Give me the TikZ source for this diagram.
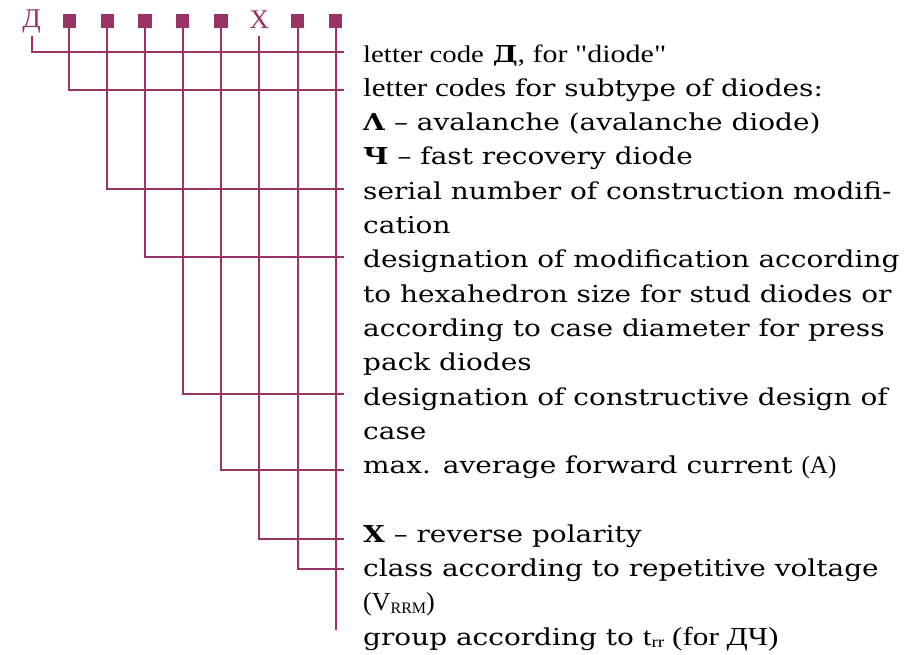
\documentclass[tikz,border=0pt]{standalone}
\usepackage{fontspec}
\setmainfont{DejaVu Serif}[FakeStretch=1.2, Ligatures=TeXOff]
\newfontfamily\tms{Liberation Serif}[Ligatures=TeXOff]
\definecolor{plum}{RGB}{153,51,102}
\newcommand\subsz{\fontsize{16}{16}\selectfont}
\newcommand\tmsat[1]{\tms\fontsize{#1}{#1}\selectfont}
\newcommand\wide[1]{\scalebox{1.2}[1]{#1}}
\tikzset{
  lead/.style={draw=plum, line width=2pt},
  cell/.style={fill=plum, minimum size=13.5pt, inner sep=0pt},
  codeletter/.style={text=plum, font=\tmsat{27}, inner sep=0pt, anchor=base},
  entry/.style={anchor=base west, inner sep=0pt, font=\fontsize{23.3}{28}\selectfont},
}
\begin{document}
\begin{tikzpicture}[x=1pt,y=-1pt]
\useasboundingbox (0,0) rectangle (919,654);

% designation symbols
\node[codeletter] (s0) at (31.7,27) {Д};
\node[cell] (s1) at (69.3,21) {};
\node[cell] (s2) at (107.3,21) {};
\node[cell] (s3) at (145,21) {};
\node[cell] (s4) at (182.7,21) {};
\node[cell] (s5) at (221,21) {};
\node[codeletter] (s6) at (259.3,28) {Х};
\node[cell] (s7) at (297.7,21) {};
\node[cell] (s8) at (335.7,21) {};

% ends of the leader lines
\coordinate (e0) at (344,52);
\coordinate (e1) at (344,90);
\coordinate (e2) at (344,189);
\coordinate (e3) at (344,257);
\coordinate (e4) at (344,394);
\coordinate (e5) at (344,470);
\coordinate (e6) at (344,539);
\coordinate (e7) at (344,569);
\coordinate (e8) at (335.7,630);

% leader lines
\draw[lead, shorten <=9pt] (s0.base) |- (e0);
\draw[lead] (s1.south) |- (e1);
\draw[lead] (s2.south) |- (e2);
\draw[lead] (s3.south) |- (e3);
\draw[lead] (s4.south) |- (e4);
\draw[lead] (s5.south) |- (e5);
\draw[lead, shorten <=8pt] (s6.base) |- (e6);
\draw[lead] (s7.south) |- (e7);
\draw[lead] (s8.south) -- (e8);

% explanations
\node[entry] (t1)  at (363,62)    {\wide{\tmsat{24}letter code} \textbf{Д}\wide{\tmsat{25}, for "diode"}};
\node[entry] (t2)  at (363,96.3)  {\wide{\tmsat{26}letter codes} for subtype of diodes:};
\node[entry] (t3)  at (363,130.6) {\textbf{Λ} – avalanche (avalanche diode)};
\node[entry] (t4)  at (363,164.9) {\textbf{Ч} – fast recovery diode};
\node[entry] (t5)  at (363,199.2) {serial number of construction modifi-};
\node[entry] (t6)  at (363,233.5) {cation};
\node[entry] (t7)  at (363,267.8) {designation of modification according};
\node[entry] (t8)  at (363,302.1) {to hexahedron size for stud diodes or};
\node[entry] (t9)  at (363,336.4) {according to case diameter for press};
\node[entry] (t10) at (363,370.7) {pack diodes};
\node[entry] (t11) at (363,405)   {designation of constructive design of};
\node[entry] (t12) at (363,439.3) {case};
\node[entry] (t13) at (363,473.6) {max. average forward current {\tmsat{25}(A)}};
\node[entry] (t15) at (363,542.2) {\textbf{Х} – reverse polarity};
\node[entry] (t16) at (363,576.5) {class according to repetitive voltage};
\node[entry] (t17) at (363,610.8) {{\tmsat{26}(V\raisebox{-2.5pt}{\subsz RRM})}};
\node[entry] (t18) at (363,645.1) {group according to \wide{\tmsat{26}t\raisebox{-2.5pt}{\subsz rr} (for ДЧ)}};
\end{tikzpicture}
\end{document}
